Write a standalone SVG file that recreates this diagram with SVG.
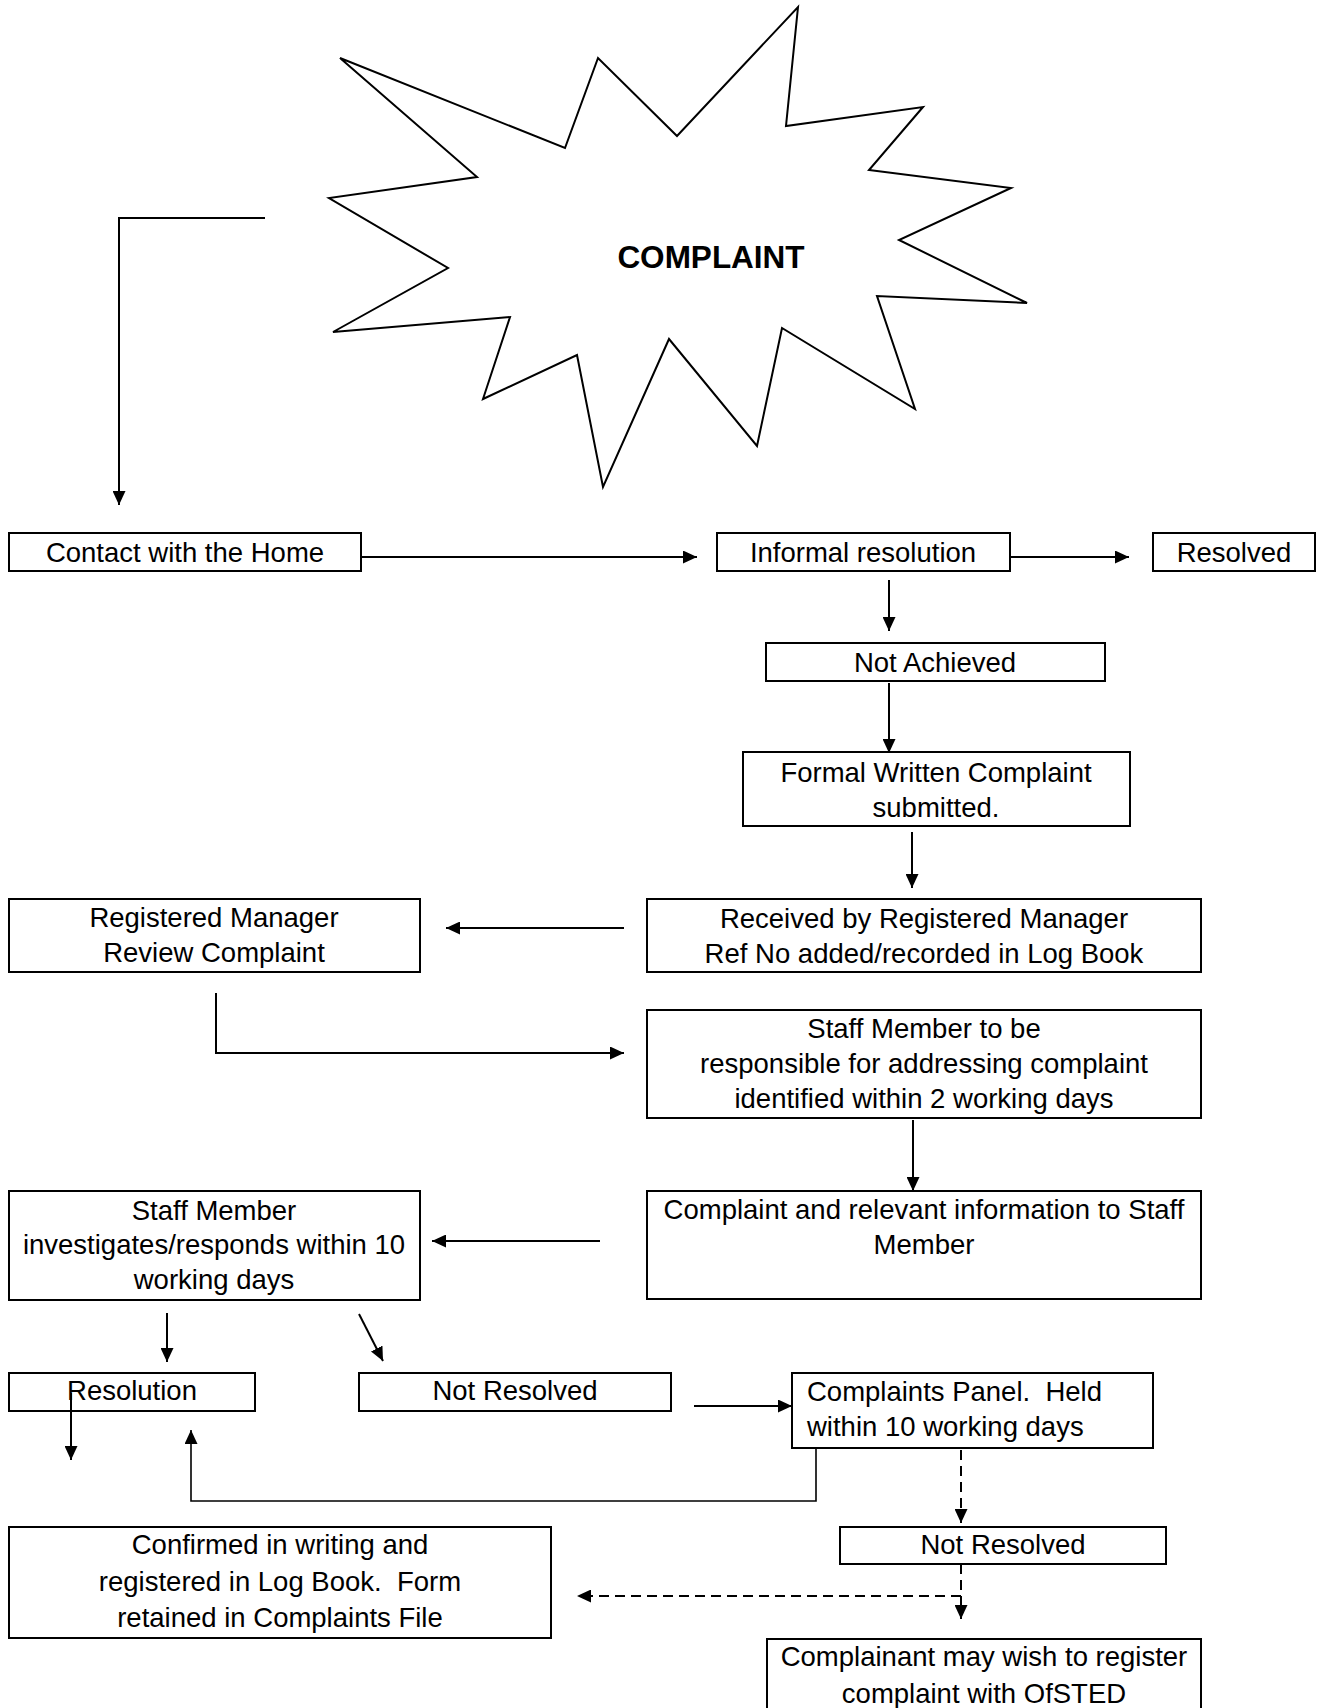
<svg xmlns="http://www.w3.org/2000/svg" width="1318" height="1708" viewBox="0 0 1318 1708">
<style>
.box{fill:#fff;stroke:#000;stroke-width:2}
.t{font-family:"Liberation Sans",Arial,sans-serif;font-size:27.5px;fill:#000;text-anchor:middle;white-space:pre}
.tl{text-anchor:start}
.c{fill:none;stroke:#000;stroke-width:2}
.thin{stroke-width:1.6}
.d{stroke-dasharray:10 6}
</style>
<defs>
<marker id="ah" viewBox="0 0 14 13" refX="14" refY="6.5" markerWidth="14" markerHeight="13" markerUnits="userSpaceOnUse" orient="auto">
<path d="M0,0 L14,6.5 L0,13 z" fill="#000"/>
</marker>
</defs>
<rect width="1318" height="1708" fill="#fff"/>
<g id="complaint">
<polygon points="340,58 565,148 598,58 677,136 798,7 786,126 923,107 869,170 1011,188 899,240 1027,303 877,296 915,409 782,328 757,446 669,339 603,487 577,355 483,399 510,317 333,332 448,268 329,198 477,177" fill="#fff" stroke="#000" stroke-width="2" stroke-linejoin="miter"/>
<text x="711" y="268" style="font-family:'Liberation Sans',Arial,sans-serif;font-size:31.5px;font-weight:bold;text-anchor:middle">COMPLAINT</text>
</g>
<g id="contact"><rect class="box" x="9" y="533" width="352" height="38"/><text class="t" x="185" y="562">Contact with the Home</text></g>
<g id="informal"><rect class="box" x="717" y="533" width="293" height="38"/><text class="t" x="863" y="562">Informal resolution</text></g>
<g id="resolved"><rect class="box" x="1153" y="533" width="162" height="38"/><text class="t" x="1234" y="562">Resolved</text></g>
<g id="not-achieved"><rect class="box" x="766" y="643" width="339" height="38"/><text class="t" x="935" y="672">Not Achieved</text></g>
<g id="formal"><rect class="box" x="743" y="752" width="387" height="74"/><text class="t" x="936" y="782">Formal Written Complaint</text><text class="t" x="936" y="817">submitted.</text></g>
<g id="received"><rect class="box" x="647" y="899" width="554" height="73"/><text class="t" x="924" y="928">Received by Registered Manager</text><text class="t" x="924" y="963">Ref No added/recorded in Log Book</text></g>
<g id="rm-review"><rect class="box" x="9" y="899" width="411" height="73"/><text class="t" x="214" y="927">Registered Manager</text><text class="t" x="214" y="962">Review Complaint</text></g>
<g id="staff-to-be"><rect class="box" x="647" y="1010" width="554" height="108"/><text class="t" x="924" y="1038">Staff Member to be</text><text class="t" x="924" y="1073">responsible for addressing complaint</text><text class="t" x="924" y="1108">identified within 2 working days</text></g>
<g id="complaint-info"><rect class="box" x="647" y="1191" width="554" height="108"/><text class="t" x="924" y="1219">Complaint and relevant information to Staff</text><text class="t" x="924" y="1254">Member</text></g>
<g id="investigates"><rect class="box" x="9" y="1191" width="411" height="109"/><text class="t" x="214" y="1220">Staff Member</text><text class="t" x="214" y="1254">investigates/responds within 10</text><text class="t" x="214" y="1289">working days</text></g>
<g id="resolution"><rect class="box" x="9" y="1373" width="246" height="38"/><text class="t" x="132" y="1400">Resolution</text></g>
<g id="not-resolved-1"><rect class="box" x="359" y="1373" width="312" height="38"/><text class="t" x="515" y="1400">Not Resolved</text></g>
<g id="panel"><rect class="box" x="792" y="1373" width="361" height="75"/><text class="t tl" x="807" y="1401">Complaints Panel.  Held</text><text class="t tl" x="807" y="1436">within 10 working days</text></g>
<g id="not-resolved-2"><rect class="box" x="840" y="1527" width="326" height="37"/><text class="t" x="1003" y="1554">Not Resolved</text></g>
<g id="confirmed"><rect class="box" x="9" y="1527" width="542" height="111"/><text class="t" x="280" y="1554">Confirmed in writing and</text><text class="t" x="280" y="1591">registered in Log Book.  Form</text><text class="t" x="280" y="1627">retained in Complaints File</text></g>
<g id="ofsted"><rect class="box" x="767" y="1639" width="434" height="90"/><text class="t" x="984" y="1666">Complainant may wish to register</text><text class="t" x="984" y="1703">complaint with OfSTED</text></g>
<g id="connectors">
<polyline class="c" points="265,218 119,218 119,505" marker-end="url(#ah)"/>
<line class="c" x1="361" y1="557" x2="697" y2="557" marker-end="url(#ah)"/>
<line class="c" x1="1010" y1="557" x2="1129" y2="557" marker-end="url(#ah)"/>
<line class="c" x1="889" y1="580" x2="889" y2="631" marker-end="url(#ah)"/>
<line class="c" x1="889" y1="683" x2="889" y2="753" marker-end="url(#ah)"/>
<line class="c" x1="912" y1="832" x2="912" y2="888" marker-end="url(#ah)"/>
<line class="c" x1="624" y1="928" x2="446" y2="928" marker-end="url(#ah)"/>
<polyline class="c" points="216,993 216,1053 624,1053" marker-end="url(#ah)"/>
<line class="c" x1="913" y1="1120" x2="913" y2="1191" marker-end="url(#ah)"/>
<line class="c" x1="600" y1="1241" x2="432" y2="1241" marker-end="url(#ah)"/>
<line class="c" x1="167" y1="1313" x2="167" y2="1362" marker-end="url(#ah)"/>
<line class="c" x1="359" y1="1314" x2="383" y2="1361" marker-end="url(#ah)"/>
<line class="c" x1="71" y1="1393" x2="71" y2="1460" marker-end="url(#ah)"/>
<line class="c" x1="694" y1="1406" x2="792" y2="1406" marker-end="url(#ah)"/>
<polyline class="c thin" points="816,1448 816,1501 191,1501 191,1430" marker-end="url(#ah)"/>
<line class="c d" x1="961" y1="1450" x2="961" y2="1523" marker-end="url(#ah)"/>
<line class="c d" x1="961" y1="1564" x2="961" y2="1619" marker-end="url(#ah)"/>
<line class="c d" x1="961" y1="1596" x2="577" y2="1596" marker-end="url(#ah)"/>
</g>
</svg>
